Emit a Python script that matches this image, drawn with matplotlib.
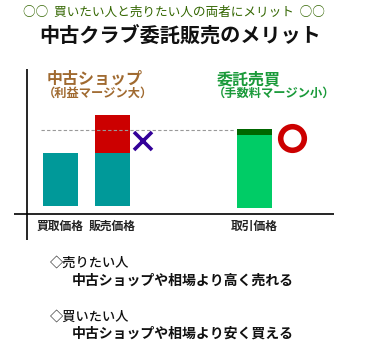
import matplotlib
matplotlib.use("Agg")
import matplotlib.pyplot as plt

plt.rcParams['font.family'] = ['Noto Sans CJK JP', 'DejaVu Sans']

# data (pixel-like units, y=0 at the x axis)
categories = ['買取価格', '販売価格', '取引価格']
x_pos = [46.5, 98.5, 240.5]
bar_bottom = [8, 8, 6]
base_values = [53, 53, 73]
margin_values = [0, 38, 6]
market_level = 84

title_top = '○○  買いたい人と売りたい人の両者にメリット  ○○'
title_main = '中古クラブ委託販売のメリット'

W, H = 366, 361
fig = plt.figure(figsize=(W / 100, H / 100), dpi=100)
fig.patch.set_facecolor('white')

ax = fig.add_axes([14 / W, (H - 240) / H, 320 / W, 171 / H])
ax.set_xlim(0, 320)
ax.set_ylim(-26, 145)
ax.axis('off')

# axes lines
ax.axhline(0, color='black', lw=1.2)
ax.axvline(13, color='black', lw=1.2)

# dashed market line
ax.plot([27, 220], [market_level, market_level], ls=(0, (3, 2)), color='#999999', lw=0.8)

base_colors = ['#009999', '#009999', '#00cc66']
margin_colors = ['#cc0000', '#cc0000', '#006600']
for i in range(3):
    ax.bar(x_pos[i], base_values[i], width=35, bottom=bar_bottom[i], color=base_colors[i])
    if margin_values[i] > 0:
        ax.bar(x_pos[i], margin_values[i], width=35,
               bottom=bar_bottom[i] + base_values[i], color=margin_colors[i])
    ax.text(x_pos[i], -12, categories[i], ha='center', va='center', fontsize=8.5,
            fontweight='bold', color='#222222')

# markers
ax.plot([129], [73], marker='x', ms=13, mew=2.6, color='#330099')
ax.plot([278], [76], marker='o', ms=17, mew=4, mfc='none', mec='#cc0000')

# group labels
ax.text(33, 135, '中古ショップ', ha='left', va='center', fontsize=11.5, fontweight='bold',
        color='#a06a30')
ax.text(29, 120.5, '（利益マージン大）', ha='left', va='center', fontsize=8.8, fontweight='bold',
        color='#a06a30')
ax.text(203, 135, '委託売買', ha='left', va='center', fontsize=11.5, fontweight='bold',
        color='#1a9a3a')
ax.text(199, 120.5, '（手数料マージン小）', ha='left', va='center', fontsize=8.8, fontweight='bold',
        color='#1a9a3a')

# titles
fig.text(174 / W, 1 - 12 / H, title_top, ha='center', va='center', fontsize=9.1, color='#336600')
fig.text(180 / W, 1 - 36 / H, title_main, ha='center', va='center', fontsize=14.5,
         fontweight='bold', color='#111111')

# bottom notes
fig.text(50 / W, 1 - 263 / H, '◇売りたい人', ha='left', va='center', fontsize=9.5,
         fontweight='medium', color='#111111')
fig.text(72 / W, 1 - 281 / H, '中古ショップや相場より高く売れる', ha='left', va='center', fontsize=10,
         fontweight='bold', color='#111111')
fig.text(50 / W, 1 - 317 / H, '◇買いたい人', ha='left', va='center', fontsize=9.5,
         fontweight='medium', color='#111111')
fig.text(72 / W, 1 - 334 / H, '中古ショップや相場より安く買える', ha='left', va='center', fontsize=10,
         fontweight='bold', color='#111111')

fig.savefig('out.png', dpi=100, facecolor='white')
